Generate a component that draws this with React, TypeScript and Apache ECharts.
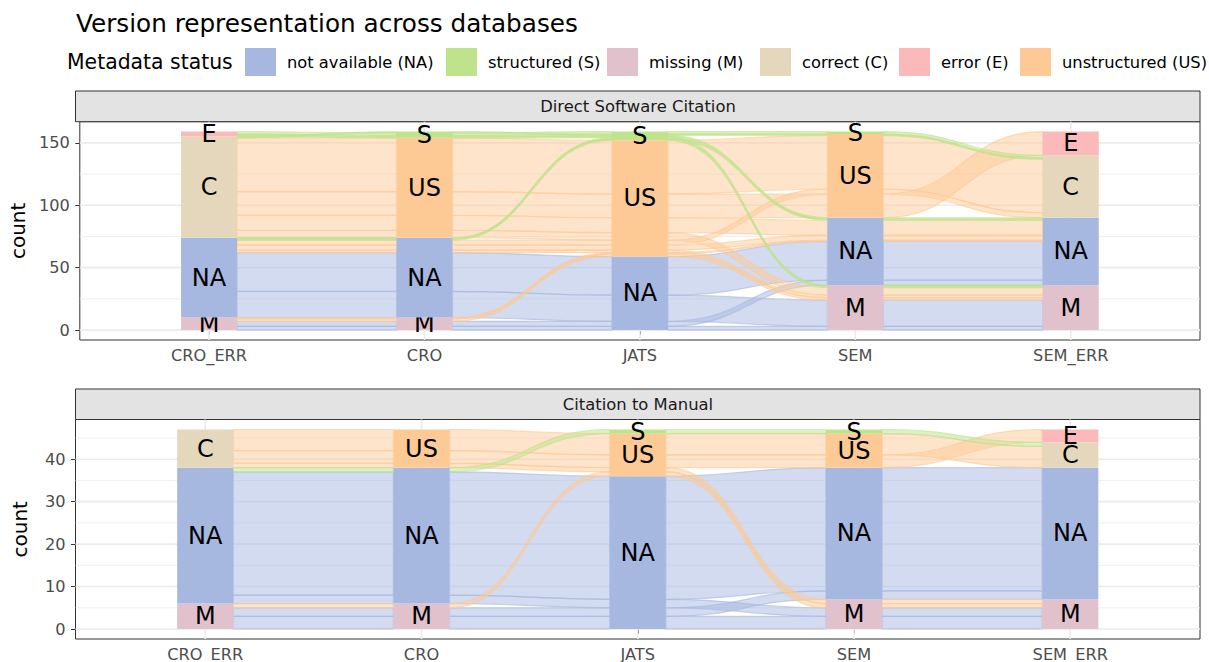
import React, { useEffect, useRef } from "react";
import * as echarts from "echarts";

const TITLE = "Version representation across databases";
const LEGEND_TITLE = "Metadata status";
const AXIS_NAMES = ["CRO_ERR", "CRO", "JATS", "SEM", "SEM_ERR"];
const STATUS_CODES = ["NA", "S", "M", "C", "E", "US"];
const STATUS_LABELS = [
  "not available (NA)",
  "structured (S)",
  "missing (M)",
  "correct (C)",
  "error (E)",
  "unstructured (US)",
];
const STATUS_COLORS = ["#A6B8E0", "#BEE38A", "#E1C2CC", "#E4D7BB", "#FBB9BA", "#FDCA96"];
// stacking order inside a bar, bottom -> top
const STACK_RANK: Record<string, number> = { M: 0, NA: 1, C: 2, US: 2, E: 3, S: 3 };
// order used when sorting lodes by their status on the other axes
const GUIDE_RANK: Record<string, number> = { M: 0, NA: 1, E: 2, C: 3, US: 2, S: 3 };
const PANEL_TITLES = ["Direct Software Citation", "Citation to Manual"];
const COLOR_AXIS = 2; // alluvia are coloured by their JATS status

// Panel 1: Direct Software Citation — alluvia (status at CRO_ERR, CRO, JATS, SEM, SEM_ERR)
const DIRECT_PATHS: string[][] = [
  ["E", "S", "S", "S", "C"],
  ["E", "S", "S", "NA", "NA"],
  ["E", "S", "S", "M", "M"],
  ["C", "S", "S", "US", "C"],
  ["NA", "NA", "S", "NA", "NA"],
  ["NA", "NA", "S", "M", "M"],
  ["M", "M", "US", "M", "M"],
  ["M", "M", "US", "NA", "NA"],
  ["NA", "NA", "US", "NA", "NA"],
  ["NA", "NA", "US", "M", "M"],
  ["NA", "NA", "US", "US", "C"],
  ["C", "US", "US", "M", "M"],
  ["C", "US", "US", "NA", "NA"],
  ["C", "US", "US", "US", "C"],
  ["C", "US", "US", "US", "E"],
  ["M", "M", "NA", "NA", "NA"],
  ["M", "M", "NA", "M", "M"],
  ["NA", "NA", "NA", "M", "M"],
  ["NA", "NA", "NA", "NA", "NA"],
];
const DIRECT_COUNTS = [2, 1, 1, 1, 1, 1, 2, 1, 4, 2, 4, 6, 12, 43, 19, 4, 3, 21, 31];

// Panel 2: Citation to Manual
const MANUAL_PATHS: string[][] = [
  ["NA", "NA", "S", "S", "C"],
  ["M", "M", "US", "M", "M"],
  ["C", "US", "US", "M", "M"],
  ["C", "US", "US", "US", "C"],
  ["C", "US", "US", "US", "E"],
  ["M", "M", "NA", "NA", "NA"],
  ["M", "M", "NA", "M", "M"],
  ["NA", "NA", "NA", "M", "M"],
  ["NA", "NA", "NA", "NA", "NA"],
];
const MANUAL_COUNTS = [1, 1, 1, 5, 3, 2, 3, 2, 29];

const DIRECT_MAJOR_TICKS = [0, 50, 100, 150];
const DIRECT_MINOR_TICKS = [25, 75, 125];
const MANUAL_MAJOR_TICKS = [0, 10, 20, 30, 40];
const MANUAL_MINOR_TICKS = [5, 15, 25, 35, 45];
const X_TICKS = [1, 2, 3, 4, 5];

const FONT = "DejaVu Sans";
const BAR_W = 0.26;
const X_MIN = 0.4;
const X_MAX = 5.6;

function rgba(hex: string, a: number) {
  const n = parseInt(hex.slice(1), 16);
  return `rgba(${(n >> 16) & 255},${(n >> 8) & 255},${n & 255},${a})`;
}
function colorOf(code: string) {
  return STATUS_COLORS[STATUS_CODES.indexOf(code)];
}

function zigzagOrder(a: number, n: number) {
  const order = [a];
  let l = a - 1;
  let r = a + 1;
  let turnLeft = a <= (n - 1) / 2;
  while (l >= 0 || r < n) {
    if (turnLeft) {
      if (l >= 0) order.push(l--);
      else order.push(r++);
    } else {
      if (r < n) order.push(r++);
      else order.push(l--);
    }
    turnLeft = !turnLeft;
  }
  return order;
}

function layoutAlluvia(paths: string[][], counts: number[]) {
  const n = AXIS_NAMES.length;
  const lodes: number[][][] = paths.map(() => new Array(n));
  const strata: { axis: number; status: string; y0: number; y1: number }[] = [];
  let total = 0;
  for (let a = 0; a < n; a++) {
    const ord = zigzagOrder(a, n);
    const idx = paths.map((_, i) => i);
    idx.sort((i, j) => {
      for (const k of ord) {
        const rank = k === a ? STACK_RANK : GUIDE_RANK;
        const d = rank[paths[i][k]] - rank[paths[j][k]];
        if (d) return d;
      }
      return i - j;
    });
    let y = 0;
    const by: Record<string, number[]> = {};
    for (const i of idx) {
      lodes[i][a] = [y, y + counts[i]];
      const s = paths[i][a];
      if (!by[s]) by[s] = [y, y + counts[i]];
      else {
        by[s][0] = Math.min(by[s][0], y);
        by[s][1] = Math.max(by[s][1], y + counts[i]);
      }
      y += counts[i];
    }
    total = y;
    for (const s of Object.keys(by)) strata.push({ axis: a, status: s, y0: by[s][0], y1: by[s][1] });
  }
  return { lodes, strata, total };
}

function panelSeries(p: number, paths: string[][], counts: number[], major: number[], minor: number[]) {
  const { lodes, strata, total } = layoutAlluvia(paths, counts);
  const yMin = -0.05 * total;
  const yMax = 1.05 * total;

  const gridData: number[][] = [];
  minor.forEach((v) => gridData.push([X_MIN, v, 0]));
  major.forEach((v) => gridData.push([X_MIN, v, 1]));
  X_TICKS.forEach((v) => gridData.push([v, yMin, 2]));

  const gridSeries = {
    type: "custom",
    xAxisIndex: p,
    yAxisIndex: p,
    z: 1,
    silent: true,
    data: gridData,
    renderItem: (params: any, api: any) => {
      const [x, y, kind] = gridData[params.dataIndex];
      let a: number[], b: number[];
      if (kind === 2) {
        a = api.coord([x, yMin]);
        b = api.coord([x, yMax]);
      } else {
        a = api.coord([X_MIN, y]);
        b = api.coord([X_MAX, y]);
      }
      return {
        type: "line",
        shape: { x1: a[0], y1: a[1], x2: b[0], y2: b[1] },
        style: { stroke: "#EBEBEB", lineWidth: kind === 0 ? 0.8 : 1.6 },
      };
    },
  };

  const drawOrder = paths
    .map((_, i) => i)
    .sort((i, j) => STACK_RANK[paths[i][COLOR_AXIS]] - STACK_RANK[paths[j][COLOR_AXIS]] || i - j);
  const flowData: number[][] = [];
  drawOrder.forEach((i) => {
    for (let a = 0; a < AXIS_NAMES.length - 1; a++) {
      flowData.push([a + 1.5, (lodes[i][a][0] + lodes[i][a + 1][1]) / 2, i, a]);
    }
  });
  const flowSeries = {
    type: "custom",
    xAxisIndex: p,
    yAxisIndex: p,
    z: 2,
    silent: true,
    data: flowData,
    renderItem: (params: any, api: any) => {
      const [, , i, a] = flowData[params.dataIndex];
      const L = lodes[i][a];
      const R = lodes[i][a + 1];
      const xl = a + 1 + BAR_W / 2;
      const xr = a + 2 - BAR_W / 2;
      const l0 = api.coord([xl, L[0]]);
      const l1 = api.coord([xl, L[1]]);
      const r0 = api.coord([xr, R[0]]);
      const r1 = api.coord([xr, R[1]]);
      const xm = (l0[0] + r0[0]) / 2;
      const d =
        `M${l1[0]},${l1[1]} C${xm},${l1[1]} ${xm},${r1[1]} ${r1[0]},${r1[1]} ` +
        `L${r0[0]},${r0[1]} C${xm},${r0[1]} ${xm},${l0[1]} ${l0[0]},${l0[1]} Z`;
      const c = colorOf(paths[i][COLOR_AXIS]);
      return {
        type: "path",
        shape: { pathData: d },
        style: { fill: rgba(c, 0.5), stroke: rgba(c, 0.6), lineWidth: 1.2 },
      };
    },
  };

  const strataData = strata.map((s, k) => [s.axis + 1, (s.y0 + s.y1) / 2, k]);
  const strataSeries = {
    type: "custom",
    xAxisIndex: p,
    yAxisIndex: p,
    z: 3,
    silent: true,
    data: strataData,
    renderItem: (params: any, api: any) => {
      const s = strata[params.dataIndex];
      const x = s.axis + 1;
      const tl = api.coord([x - BAR_W / 2, s.y1]);
      const br = api.coord([x + BAR_W / 2, s.y0]);
      const c = api.coord([x, (s.y0 + s.y1) / 2]);
      return {
        type: "group",
        children: [
          {
            type: "rect",
            shape: { x: tl[0], y: tl[1], width: br[0] - tl[0], height: br[1] - tl[1] },
            style: { fill: colorOf(s.status) },
          },
          {
            type: "text",
            x: c[0],
            y: c[1],
            style: {
              text: s.status,
              fill: "#000000",
              fontSize: 24,
              fontFamily: FONT,
              align: "center",
              verticalAlign: "middle",
            },
          },
        ],
      };
    },
  };

  return { series: [gridSeries, flowSeries, strataSeries], yMin, yMax };
}

const LEGEND_KEY_X = [245, 446, 607, 760, 899, 1020];

export default function App() {
  const ref = useRef<HTMLDivElement>(null);
  useEffect(() => {
    if (!ref.current) return;
    const chart = echarts.init(ref.current, undefined, { renderer: "svg" });
    const p1 = panelSeries(0, DIRECT_PATHS, DIRECT_COUNTS, DIRECT_MAJOR_TICKS, DIRECT_MINOR_TICKS);
    const p2 = panelSeries(1, MANUAL_PATHS, MANUAL_COUNTS, MANUAL_MAJOR_TICKS, MANUAL_MINOR_TICKS);
    const grids = [
      { top: 121.7, height: 218.3 },
      { top: 419.5, height: 219.5 },
    ];
    const majors = [DIRECT_MAJOR_TICKS, MANUAL_MAJOR_TICKS];
    const ranges = [p1, p2];

    const xAxis = grids.map((_, p) => ({
      gridIndex: p,
      type: "value",
      min: X_MIN,
      max: X_MAX,
      axisLine: { show: false },
      splitLine: { show: false },
      axisTick: { show: true, customValues: X_TICKS, length: 4.5, lineStyle: { color: "#333333", width: 1 } },
      axisLabel: {
        customValues: X_TICKS,
        formatter: (v: number) => AXIS_NAMES[Math.round(v) - 1] ?? "",
        color: "#4D4D4D",
        fontSize: 16.2,
        fontFamily: FONT,
        margin: 7,
      },
    }));
    const yAxis = grids.map((_, p) => ({
      gridIndex: p,
      type: "value",
      min: ranges[p].yMin,
      max: ranges[p].yMax,
      axisLine: { show: false },
      splitLine: { show: false },
      axisTick: { show: true, customValues: majors[p], length: 4.5, lineStyle: { color: "#333333", width: 1 } },
      axisLabel: {
        customValues: majors[p],
        color: "#4D4D4D",
        fontSize: 16.2,
        fontFamily: FONT,
        margin: 10,
      },
      name: "count",
      nameLocation: "middle",
      nameGap: 46,
      nameRotate: 90,
      nameTextStyle: { fontSize: 20, color: "#000000", fontFamily: FONT },
    }));

    const graphic: any[] = [
      {
        type: "text",
        x: 76,
        y: 23,
        style: { text: TITLE, fontSize: 24.7, fontFamily: FONT, fill: "#000000", align: "left", verticalAlign: "middle" },
      },
      {
        type: "text",
        x: 67,
        y: 62,
        style: { text: LEGEND_TITLE, fontSize: 20.4, fontFamily: FONT, fill: "#000000", align: "left", verticalAlign: "middle" },
      },
    ];
    STATUS_LABELS.forEach((label, k) => {
      graphic.push({
        type: "rect",
        shape: { x: LEGEND_KEY_X[k], y: 48, width: 31, height: 28 },
        style: { fill: STATUS_COLORS[k] },
      });
      graphic.push({
        type: "text",
        x: LEGEND_KEY_X[k] + 42,
        y: 62,
        style: { text: label, fontSize: 16.3, fontFamily: FONT, fill: "#000000", align: "left", verticalAlign: "middle" },
      });
    });
    const strips = [
      { y: 91, h: 30.7 },
      { y: 389, h: 30.5 },
    ];
    strips.forEach((s, p) => {
      graphic.push({
        type: "rect",
        shape: { x: 75.5, y: s.y, width: 1124.5, height: s.h },
        style: { fill: "#E3E3E3", stroke: "#333333", lineWidth: 1 },
      });
      graphic.push({
        type: "text",
        x: 638,
        y: s.y + s.h / 2,
        style: { text: PANEL_TITLES[p], fontSize: 16.4, fontFamily: FONT, fill: "#1A1A1A", align: "center", verticalAlign: "middle" },
      });
    });

    chart.setOption({
      animation: false,
      backgroundColor: "#FFFFFF",
      textStyle: { fontFamily: FONT },
      grid: grids.map((g) => ({
        left: 75.5,
        top: g.top,
        width: 1124.5,
        height: g.height,
        show: true,
        borderColor: "#333333",
        borderWidth: 1,
        backgroundColor: "#FFFFFF",
        containLabel: false,
      })),
      xAxis,
      yAxis,
      series: [...p1.series, ...p2.series],
      graphic,
    });
    return () => chart.dispose();
  }, []);
  return (
    <div
      ref={ref}
      style={{ position: "fixed", left: 0, top: 0, width: 1209, height: 662, background: "#FFFFFF" }}
    />
  );
}
